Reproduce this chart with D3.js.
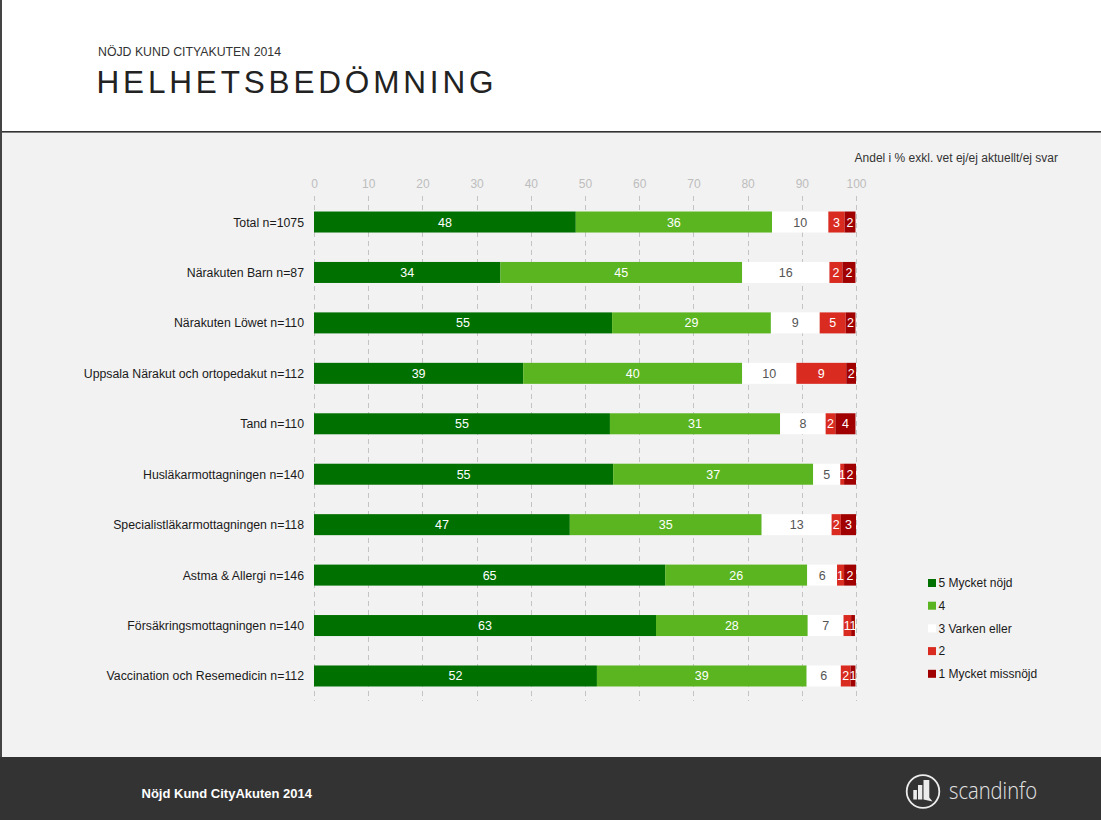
<!DOCTYPE html>
<html>
<head>
<meta charset="utf-8">
<script src="https://cdn.jsdelivr.net/npm/d3@7/dist/d3.min.js"></script>
<style>
html,body{margin:0;padding:0;background:#f2f2f2;}
svg{display:block;font-family:"Liberation Sans",Arial,sans-serif;}
</style>
</head>
<body>
<svg id="chart" width="1101" height="820"></svg>
<script>
const categories = [
  "Total n=1075",
  "Närakuten Barn n=87",
  "Närakuten Löwet n=110",
  "Uppsala Närakut och ortopedakut n=112",
  "Tand n=110",
  "Husläkarmottagningen n=140",
  "Specialistläkarmottagningen n=118",
  "Astma & Allergi n=146",
  "Försäkringsmottagningen n=140",
  "Vaccination och Resemedicin n=112"
];
const seriesNames = ["5 Mycket nöjd", "4", "3 Varken eller", "2", "1 Mycket missnöjd"];
const s5 = [48.3, 34.4, 55.0, 38.6, 54.6, 55.2, 47.2, 64.8, 63.1, 52.2];
const s4 = [36.2, 44.6, 29.3, 40.4, 31.4, 36.9, 35.4, 26.2, 28.0, 38.7];
const s3 = [10.4, 16.1, 9.0, 10.0, 8.4, 5.0, 12.9, 5.5, 6.6, 6.3];
const s2 = [3.0, 2.4, 4.8, 9.2, 1.8, 0.7, 1.7, 1.3, 1.4, 1.8];
const s1 = [2.0, 2.4, 1.8, 1.8, 3.7, 2.2, 2.8, 2.2, 0.7, 0.9];
const tickValues = [0, 10, 20, 30, 40, 50, 60, 70, 80, 90, 100];
const colors = ["#007000", "#5ab520", "#ffffff", "#da2b20", "#a00000"];
const labelColors = ["#ffffff", "#ffffff", "#555555", "#ffffff", "#ffffff"];

const svg = d3.select("#chart");
const W = 1101, H = 820;

// Page background
svg.append("rect").attr("x", 0).attr("y", 0).attr("width", W).attr("height", H).attr("fill", "#f2f2f2");
svg.append("rect").attr("x", 0).attr("y", 0).attr("width", W).attr("height", 132).attr("fill", "#ffffff");
svg.append("rect").attr("x", 0).attr("y", 131).attr("width", W).attr("height", 1.6).attr("fill", "#333333");
svg.append("rect").attr("x", 0).attr("y", 757).attr("width", W).attr("height", H - 757).attr("fill", "#333333");
svg.append("rect").attr("x", 0).attr("y", 0).attr("width", 2).attr("height", 757).attr("fill", "#444444");

// Header texts
svg.append("text").attr("x", 98).attr("y", 55.5)
  .attr("font-size", 12.5).attr("fill", "#333")
  .attr("textLength", 183).attr("lengthAdjust", "spacingAndGlyphs")
  .text("NÖJD KUND CITYAKUTEN 2014");
svg.append("text").attr("x", 96.5).attr("y", 93)
  .attr("font-size", 31.5).attr("fill", "#222")
  .attr("textLength", 397).attr("lengthAdjust", "spacing")
  .text("HELHETSBEDÖMNING");

svg.append("text").attr("x", 1058).attr("y", 162)
  .attr("font-size", 12).attr("fill", "#333").attr("text-anchor", "end")
  .text("Andel i % exkl. vet ej/ej aktuellt/ej svar");

// Scales
const x = d3.scaleLinear().domain([0, 100]).range([314, 856]);
const y = d3.scalePoint().domain(categories).range([196.8, 701.2]).padding(0.5);
const barH = 21;

// Gridlines
svg.append("g").selectAll("line").data(tickValues).join("line")
  .attr("x1", d => Math.round(x(d)) + 0.5).attr("x2", d => Math.round(x(d)) + 0.5)
  .attr("y1", 196).attr("y2", 701)
  .attr("stroke", "#c4c4c4").attr("stroke-width", 1)
  .attr("stroke-dasharray", "5,4");

// Top axis
const axis = svg.append("g").attr("transform", "translate(0,188)")
  .call(d3.axisTop(x).tickValues(tickValues).tickSize(0).tickPadding(0));
axis.select(".domain").remove();
axis.selectAll("text").attr("fill", "#bdbdbd").attr("font-size", 12)
  .attr("font-family", "'Liberation Sans', Arial, sans-serif");

// Data table
const rows = categories.map((c, i) => ({cat: c, v0: s5[i], v1: s4[i], v2: s3[i], v3: s2[i], v4: s1[i]}));
const keys = ["v0", "v1", "v2", "v3", "v4"];
const stacked = d3.stack().keys(keys)(rows);

const bars = svg.append("g");
stacked.forEach((layer, li) => {
  bars.append("g").attr("fill", colors[li]).selectAll("rect").data(layer).join("rect")
    .attr("x", d => x(d[0]))
    .attr("width", d => x(d[1]) - x(d[0]))
    .attr("y", d => y(d.data.cat) - barH / 2)
    .attr("height", barH);
});

// Labels (clipped at plot end)
svg.append("clipPath").attr("id", "plotclip").append("rect")
  .attr("x", 300).attr("y", 190).attr("width", x(100) - 300 + 0.5).attr("height", 520);
const labels = svg.append("g").attr("clip-path", "url(#plotclip)");
stacked.forEach((layer, li) => {
  labels.append("g").selectAll("text").data(layer).join("text")
    .attr("x", d => (x(d[0]) + x(d[1])) / 2)
    .attr("y", d => y(d.data.cat) + 4.5)
    .attr("text-anchor", "middle")
    .attr("font-size", 12.5)
    .attr("fill", labelColors[li])
    .text(d => Math.round(d[1] - d[0]));
});

// Category labels
svg.append("g").selectAll("text").data(categories).join("text")
  .attr("x", 304).attr("y", d => y(d) + 4.5)
  .attr("text-anchor", "end").attr("font-size", 12.3).attr("fill", "#1a1a1a")
  .text(d => d);

// Legend
const lg = svg.append("g");
const legY = d3.scalePoint().domain(seriesNames).range([583, 673.8]);
seriesNames.forEach((n, i) => {
  lg.append("rect").attr("x", 928).attr("y", legY(n) - 4).attr("width", 8).attr("height", 8).attr("fill", colors[i]);
  lg.append("text").attr("x", 938.5).attr("y", legY(n) + 4.3).attr("font-size", 12).attr("fill", "#1a1a1a").text(n);
});

// Footer
svg.append("text").attr("x", 141.5).attr("y", 797.5)
  .attr("font-size", 13).attr("font-weight", "bold").attr("fill", "#ffffff")
  .text("Nöjd Kund CityAkuten 2014");

// Logo
const logo = svg.append("g");
logo.append("circle").attr("cx", 923).attr("cy", 791.5).attr("r", 16.3)
  .attr("fill", "none").attr("stroke", "#ececec").attr("stroke-width", 1.8);
logo.append("rect").attr("x", 913.3).attr("y", 790).attr("width", 3.6).attr("height", 9.5).attr("fill", "#ececec");
logo.append("rect").attr("x", 918).attr("y", 785).attr("width", 4.3).attr("height", 14.5).attr("fill", "#ececec");
logo.append("path").attr("d", "M923.5,780 L929.3,780 L929.3,797.5 L932.5,801.5 L923.5,799.5 Z").attr("fill", "#ececec");
logo.append("text").attr("x", 949).attr("y", 799)
  .attr("font-family", "'Open Sans', sans-serif").attr("font-weight", 300)
  .attr("font-size", 23).attr("fill", "#e4e4e4")
  .attr("textLength", 88).attr("lengthAdjust", "spacingAndGlyphs")
  .text("scandinfo");
</script>
</body>
</html>
